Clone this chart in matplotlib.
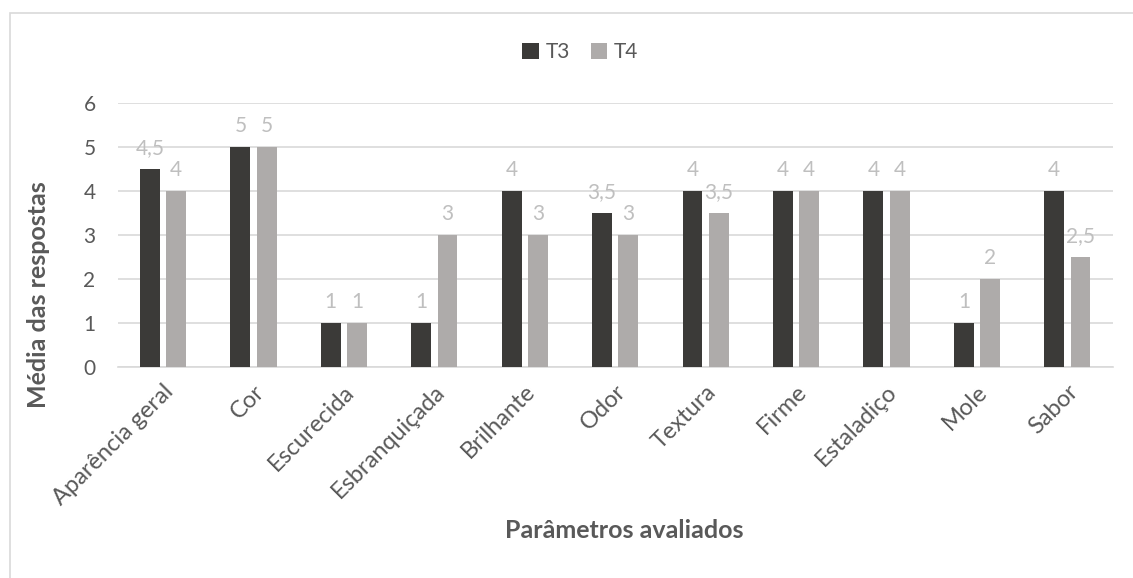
import matplotlib.pyplot as plt
import numpy as np
from matplotlib.patches import Rectangle

categorias = ["Aparência geral", "Cor", "Escurecida", "Esbranquiçada", "Brilhante",
              "Odor", "Textura", "Firme", "Estaladiço", "Mole", "Sabor"]
t3 = [4.5, 5, 1, 1, 4, 3.5, 4, 4, 4, 1, 4]
t4 = [4, 5, 1, 3, 3, 3, 3.5, 4, 4, 2, 2.5]

cor_t3 = "#3b3a38"
cor_t4 = "#aeabaa"
cinza_texto = "#595959"
cinza_rotulo = "#bfbfbf"

plt.rcParams["font.family"] = ["Lato", "DejaVu Sans"]

fig = plt.figure(figsize=(11.33, 5.78), dpi=100)
ax = fig.add_axes([0.104, 0.365, 0.878, 0.457])

x = np.arange(len(categorias))
w = 0.22
b3 = ax.bar(x - w / 2 - 0.035, t3, w, color=cor_t3, label="T3", zorder=3)
b4 = ax.bar(x + w / 2 + 0.035, t4, w, color=cor_t4, label="T4", zorder=3)

def fmt(v):
    return ("%g" % v).replace(".", ",")

# rótulos de valor acima das barras
for barras, vals in ((b3, t3), (b4, t4)):
    for b, v in zip(barras, vals):
        ax.annotate(fmt(v), (b.get_x() + b.get_width() / 2, v), xytext=(0, 15),
                    textcoords="offset points", ha="center", va="center",
                    fontsize=15, color=cinza_rotulo, zorder=4)

ax.set_xlim(-0.5, len(categorias) - 0.5)
ax.set_ylim(0, 6)
ax.set_yticks(range(7))
ax.yaxis.grid(True, color="#d9d9d9", linewidth=1.2, zorder=0)
ax.set_axisbelow(True)
for s in ["top", "right", "left"]:
    ax.spines[s].set_visible(False)
ax.spines["bottom"].set_color("#d9d9d9")
ax.spines["bottom"].set_linewidth(1.2)
ax.tick_params(axis="both", length=0, colors=cinza_texto)
ax.tick_params(axis="y", pad=16, labelsize=15)
ax.tick_params(axis="x", pad=10, labelsize=17)
ax.set_xticks(x)
ax.set_xticklabels(categorias, rotation=45, ha="right", rotation_mode="anchor")

ax.set_ylabel("Média das respostas", fontsize=18, fontweight="bold", color=cinza_texto)
ax.yaxis.set_label_coords(-0.068, 0.276)
fig.text(0.551, 0.083, "Parâmetros avaliados", ha="center", va="center",
         fontsize=18, fontweight="bold", color=cinza_texto)

fig.legend(loc="center", bbox_to_anchor=(0.512, 0.91), ncol=2, frameon=False,
           fontsize=15, handlelength=0.8, handleheight=0.8, handletextpad=0.3,
           columnspacing=1.0, labelcolor=cinza_texto)

fig.patches.append(Rectangle((0.009, -0.05), 1.1, 1.027, transform=fig.transFigure,
                             fill=False, edgecolor="#d9d9d9", linewidth=1.2))

fig.savefig("out.png", dpi=100)
